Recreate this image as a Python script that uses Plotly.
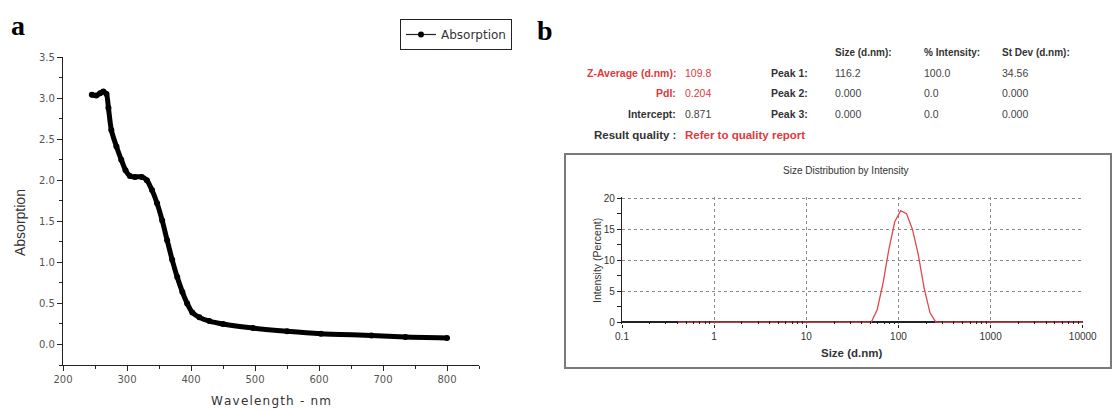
import plotly.graph_objects as go

# ---------------- data ----------------
wavelength = [245, 252, 258, 263, 268, 271, 275.5, 283.5, 291, 297.7, 304.6, 312.5, 323, 331,
              339, 347, 355, 362.7, 370.6, 378.5, 386.5, 394, 402, 413, 428.7, 450, 497, 550,
              603, 682, 735, 800]
absorption = [3.04, 3.03, 3.06, 3.08, 3.05, 2.88, 2.61, 2.41, 2.25, 2.12, 2.05, 2.04, 2.04, 2.00,
              1.88, 1.72, 1.51, 1.27, 1.03, 0.82, 0.64, 0.50, 0.39, 0.33, 0.285, 0.25, 0.20, 0.16,
              0.13, 0.11, 0.09, 0.08]

size_nm = [0.4, 50.75, 58.77, 68.06, 78.82, 91.28, 105.7, 122.4, 141.8, 164.2, 190.1, 220.2, 255.0, 10000]
intensity = [0, 0, 2.0, 6.3, 11.8, 16.2, 18.0, 17.5, 15.0, 10.9, 5.5, 1.5, 0, 0]

size_ticks = [0.1, 1, 10, 100, 1000, 10000]
size_ticktext = ["0.1", "1", "10", "100", "1000", "10000"]
size_minor = [0.2, 0.3, 0.4, 0.5, 0.6, 0.7, 0.8, 0.9, 2, 3, 4, 5, 6, 7, 8, 9,
              20, 30, 40, 50, 60, 70, 80, 90, 200, 300, 400, 500, 600, 700, 800, 900,
              2000, 3000, 4000, 5000, 6000, 7000, 8000, 9000]

table_left_labels = ["Z-Average (d.nm):", "PdI:", "Intercept:", "Result quality :"]
table_left_values = ["109.8", "0.204", "0.871", "Refer to quality report"]
table_left_colors = ["#e0393e", "#e0393e", "#333333", "#333333"]
table_left_valcolors = ["#e0393e", "#e0393e", "#444444", "#e0393e"]
peak_labels = ["Peak 1:", "Peak 2:", "Peak 3:"]
peak_headers = ["Size (d.nm):", "% Intensity:", "St Dev (d.nm):"]
peak_sizes = ["116.2", "0.000", "0.000"]
peak_int = ["100.0", "0.0", "0.0"]
peak_sd = ["34.56", "0.000", "0.000"]

W, H = 1113, 410
def px(x):
    return x / W
def py(y):
    return 1 - y / H

fig = go.Figure()

# main absorption curve (thick, drawn from dense points)
fig.add_trace(go.Scatter(
    x=wavelength, y=absorption, mode="lines+markers", name="Absorption",
    line=dict(color="black", width=5, shape="spline", smoothing=0.6),
    marker=dict(color="black", size=6),
    xaxis="x", yaxis="y", showlegend=False))
# legend entry only (thin line with dot, as in the reference legend)
fig.add_trace(go.Scatter(
    x=[None], y=[None], mode="lines+markers", name="Absorption",
    line=dict(color="#222222", width=1.2), marker=dict(color="black", size=6),
    xaxis="x", yaxis="y", showlegend=True))

fig.add_trace(go.Scatter(
    x=size_nm, y=intensity, mode="lines", name="Intensity",
    line=dict(color="#e0484c", width=1.3),
    xaxis="x2", yaxis="y2", showlegend=False))

axis_font_a = dict(family="DejaVu Sans, Liberation Sans", size=10, color="#555555")

fig.update_layout(
    width=W, height=H, autosize=False,
    margin=dict(l=0, r=0, t=0, b=0, pad=0),
    paper_bgcolor="white", plot_bgcolor="white",
    showlegend=True,
    legend=dict(x=px(400), y=py(19), xanchor="left", yanchor="top",
                bordercolor="#222222", borderwidth=1, bgcolor="white",
                font=dict(family="DejaVu Sans, Liberation Sans", size=12, color="#333333"),
                itemwidth=30, tracegroupgap=0),
    xaxis=dict(domain=[px(63), px(479)], range=[200, 850], anchor="y", automargin=False,
               showline=True, linecolor="#222222", linewidth=1.3,
               ticks="outside", ticklen=5, tickcolor="#222222", tickwidth=1,
               tickvals=[200, 300, 400, 500, 600, 700, 800],
               minor=dict(dtick=50, tick0=0, ticks="outside", ticklen=3, tickcolor="#222222"),
               showgrid=False, zeroline=False, tickfont=axis_font_a),
    yaxis=dict(domain=[py(365), py(57)], range=[-0.25, 3.5], anchor="x", automargin=False,
               showline=True, linecolor="#222222", linewidth=1.3,
               ticks="outside", ticklen=5, tickcolor="#222222", tickwidth=1,
               tickvals=[0, 0.5, 1.0, 1.5, 2.0, 2.5, 3.0, 3.5], tickformat=".1f",
               minor=dict(dtick=0.25, tick0=0, ticks="outside", ticklen=3, tickcolor="#222222"),
               showgrid=False, zeroline=False, tickfont=axis_font_a),
    xaxis2=dict(domain=[px(622), px(1083)], type="log", range=[-1, 4.003], anchor="y2",
                automargin=False, showline=False,
                tickmode="array", tickvals=size_ticks, ticktext=size_ticktext,
                ticks="outside", ticklen=3, tickcolor="#222222",
                minor=dict(tickmode="array", tickvals=size_minor, ticks="inside", ticklen=3,
                           tickcolor="#222222", showgrid=False),
                showgrid=True, gridcolor="#8a8a8a", griddash="dot", gridwidth=1,
                zeroline=False,
                tickfont=dict(family="Liberation Sans, Arial", size=10, color="#333333")),
    yaxis2=dict(domain=[py(324), py(197)], range=[-0.3, 20.2], anchor="x2", automargin=False,
                showline=True, linecolor="#222222", linewidth=1.3,
                tickvals=[0, 5, 10, 15, 20],
                ticks="outside", ticklen=4, tickcolor="#222222",
                minor=dict(dtick=2.5, tick0=0, ticks="outside", ticklen=4, tickcolor="#222222",
                           showgrid=False),
                showgrid=True, gridcolor="#8a8a8a", griddash="dot", gridwidth=1,
                zeroline=True, zerolinecolor="#222222", zerolinewidth=1.5,
                tickfont=dict(family="Liberation Sans, Arial", size=10, color="#333333")),
)

# panel box for b
fig.add_shape(type="rect", xref="paper", yref="paper",
              x0=px(565), x1=px(1111), y0=py(368), y1=py(154),
              line=dict(color="#7a7a7a", width=2), fillcolor="rgba(0,0,0,0)", layer="below")

HS = "\u200a"
ann = []
# panel letters
ann.append(dict(text="<b>a</b>", x=px(9), y=py(25), xanchor="left", yanchor="middle",
                font=dict(family="Liberation Serif, Times New Roman", size=28, color="black")))
ann.append(dict(text="<b>b</b>", x=px(535), y=py(31), xanchor="left", yanchor="middle",
                font=dict(family="Liberation Serif, Times New Roman", size=28, color="black")))
# panel a axis titles
ann.append(dict(text="Absorption", x=px(20), y=py(223), textangle=-90,
                xanchor="center", yanchor="middle",
                font=dict(family="Liberation Sans, Arial", size=14, color="#333333")))
ann.append(dict(text=HS.join("Wavelength - nm"), x=px(271), y=py(401),
                xanchor="center", yanchor="middle",
                font=dict(family="DejaVu Sans, Liberation Sans", size=12, color="#333333")))

# table
row_y = [73, 93, 114, 135]
for i in range(4):
    ann.append(dict(text="<b>" + table_left_labels[i] + "</b>", x=px(678), y=py(row_y[i]),
                    xanchor="right", yanchor="middle",
                    font=dict(family="Liberation Sans, Arial", size=10.5 if i < 3 else 11.5,
                              color=table_left_colors[i])))
    val = table_left_values[i]
    if i == 3:
        val = "<b>" + val + "</b>"
    ann.append(dict(text=val, x=px(683), y=py(row_y[i]), xanchor="left", yanchor="middle",
                    font=dict(family="Liberation Sans, Arial", size=10.5 if i < 3 else 11.5,
                              color=table_left_valcolors[i])))
col_x = [833, 922, 1000]
for j, h in enumerate(peak_headers):
    ann.append(dict(text="<b>" + h + "</b>", x=px(col_x[j]), y=py(52), xanchor="left",
                    yanchor="middle",
                    font=dict(family="Liberation Sans, Arial", size=10, color="#333333")))
for i in range(3):
    ann.append(dict(text="<b>" + peak_labels[i] + "</b>", x=px(810), y=py(row_y[i]),
                    xanchor="right", yanchor="middle",
                    font=dict(family="Liberation Sans, Arial", size=10.5, color="#333333")))
    for j, col in enumerate([peak_sizes, peak_int, peak_sd]):
        ann.append(dict(text=col[i], x=px(col_x[j]), y=py(row_y[i]), xanchor="left",
                        yanchor="middle",
                        font=dict(family="Liberation Sans, Arial", size=10.5, color="#444444")))

# panel b chart texts
ann.append(dict(text="Size Distribution by Intensity", x=px(846), y=py(171),
                xanchor="center", yanchor="middle",
                font=dict(family="Liberation Sans Narrow, Liberation Sans, Arial", size=10,
                          color="#333333")))
ann.append(dict(text="Intensity (Percent)", x=px(597), y=py(261), textangle=-90,
                xanchor="center", yanchor="middle",
                font=dict(family="Liberation Sans Narrow, Liberation Sans, Arial", size=10.5,
                          color="#333333")))
ann.append(dict(text="<b>Size (d.nm)</b>", x=px(852), y=py(353), xanchor="center",
                yanchor="middle",
                font=dict(family="Liberation Sans, Arial", size=11.5, color="#333333")))

for a in ann:
    a.update(xref="paper", yref="paper", showarrow=False)
fig.update_layout(annotations=ann)

fig.write_html("out.html",
               config={"displayModeBar": False},
               post_script="document.body.style.margin='0';document.body.style.overflow='hidden';")
